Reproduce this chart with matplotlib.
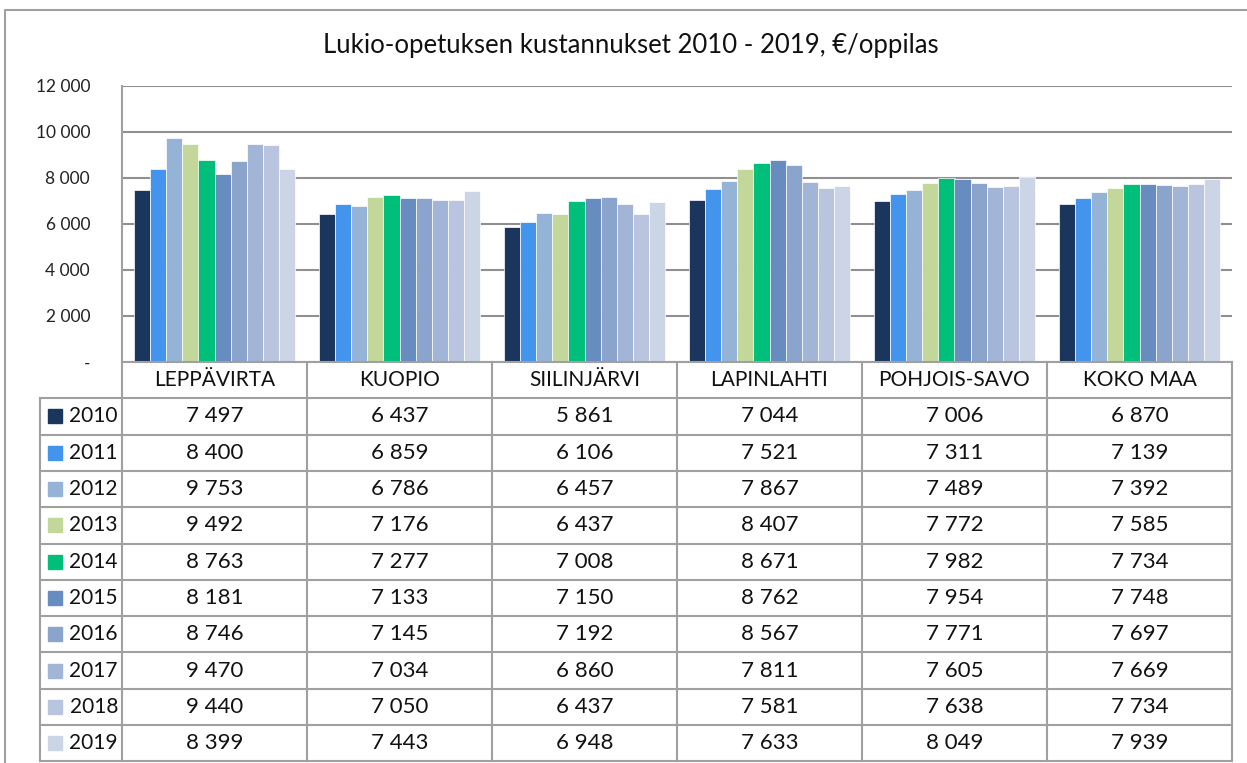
import matplotlib.pyplot as plt
import numpy as np

plt.rcParams['font.family'] = ['Lato', 'DejaVu Sans']

regions = ['LEPPÄVIRTA', 'KUOPIO', 'SIILINJÄRVI', 'LAPINLAHTI', 'POHJOIS-SAVO', 'KOKO MAA']
years = ['2010', '2011', '2012', '2013', '2014', '2015', '2016', '2017', '2018', '2019']
values = [
    [7497, 6437, 5861, 7044, 7006, 6870],
    [8400, 6859, 6106, 7521, 7311, 7139],
    [9753, 6786, 6457, 7867, 7489, 7392],
    [9492, 7176, 6437, 8407, 7772, 7585],
    [8763, 7277, 7008, 8671, 7982, 7734],
    [8181, 7133, 7150, 8762, 7954, 7748],
    [8746, 7145, 7192, 8567, 7771, 7697],
    [9470, 7034, 6860, 7811, 7605, 7669],
    [9440, 7050, 6437, 7581, 7638, 7734],
    [8399, 7443, 6948, 7633, 8049, 7939],
]
colors = ['#1b365d', '#4394ec', '#95b3d7', '#c4d79b', '#00bf7b',
          '#678cc0', '#8aa4cc', '#a3b5d6', '#b9c5de', '#cbd5e6']
yticks = [0, 2000, 4000, 6000, 8000, 10000, 12000]

W, H = 1247, 763
fig = plt.figure(figsize=(W / 100, H / 100), dpi=100)

# layout in pixels
px_left, px_right = 122, 1232
px_top, px_bottom = 86, 362
row_h = 36.3
lab_left = 40
grid_c = '#a0a0a0'

ax = fig.add_axes([px_left / W, 1 - px_bottom / H,
                   (px_right - px_left) / W, (px_bottom - px_top) / H])
n = len(years)
group = 0.865
bw = group / n
x = np.arange(len(regions))
for i, (yr, vals) in enumerate(zip(years, values)):
    ax.bar(x - group / 2 + bw * (i + 0.5), vals, width=bw, color=colors[i],
           edgecolor='white', linewidth=0.5, zorder=3)
ax.set_xlim(-0.5, len(regions) - 0.5)
ax.set_ylim(0, 12000)
ax.set_yticks(yticks)
ax.set_yticklabels(['-' if t == 0 else f'{t:,}'.replace(',', ' ') for t in yticks],
                   fontsize=12.5, color='#222222')
ax.tick_params(axis='y', length=0, pad=23)
ax.set_xticks([])
ax.grid(axis='y', color='#909090', linewidth=1.5, zorder=0)
for s in ['top', 'right', 'bottom']:
    ax.spines[s].set_visible(False)
ax.spines['left'].set_color(grid_c)
ax.spines['left'].set_linewidth(1.5)

# overlay in pixel coordinates for table and frame
ov = fig.add_axes([0, 0, 1, 1])
ov.set_xlim(0, W)
ov.set_ylim(H, 0)
ov.axis('off')

ov.text(631, 45, 'Lukio-opetuksen kustannukset 2010 - 2019, €/oppilas',
        ha='center', va='center', fontsize=18.5, color='#111111')

# outer frame
ov.plot([5, 5, W + 5], [H + 5, 10, 10], color='#a0a0a0', lw=1.5)

col_w = (px_right - px_left) / len(regions)
n_rows = len(years)
tab_bottom = px_bottom + row_h * (n_rows + 1)
hdr_bottom = px_bottom + row_h
# horizontal lines
ov.plot([px_left, px_right], [px_bottom, px_bottom], color=grid_c, lw=1.5)
for r in range(n_rows + 1):
    yy = hdr_bottom + r * row_h
    ov.plot([lab_left, px_right], [yy, yy], color=grid_c, lw=1.5)
# vertical lines
for c in range(len(regions) + 1):
    xx = px_left + c * col_w
    ov.plot([xx, xx], [px_bottom, tab_bottom], color=grid_c, lw=1.5)
ov.plot([lab_left, lab_left], [hdr_bottom, tab_bottom], color=grid_c, lw=1.5)

for c, name in enumerate(regions):
    ov.text(px_left + (c + 0.5) * col_w, px_bottom + row_h / 2, name,
            ha='center', va='center', fontsize=15, color='#111111')
for r, yr in enumerate(years):
    yc = hdr_bottom + (r + 0.5) * row_h
    ov.add_patch(plt.Rectangle((48, yc - 7), 14, 14, color=colors[r]))
    ov.text(118, yc, yr, ha='right', va='center', fontsize=15, color='#111111')
    for c in range(len(regions)):
        ov.text(px_left + (c + 0.5) * col_w, yc, f'{values[r][c]:,}'.replace(',', ' '),
                ha='center', va='center', fontsize=16, color='#111111')

fig.savefig('out.png', dpi=100)
